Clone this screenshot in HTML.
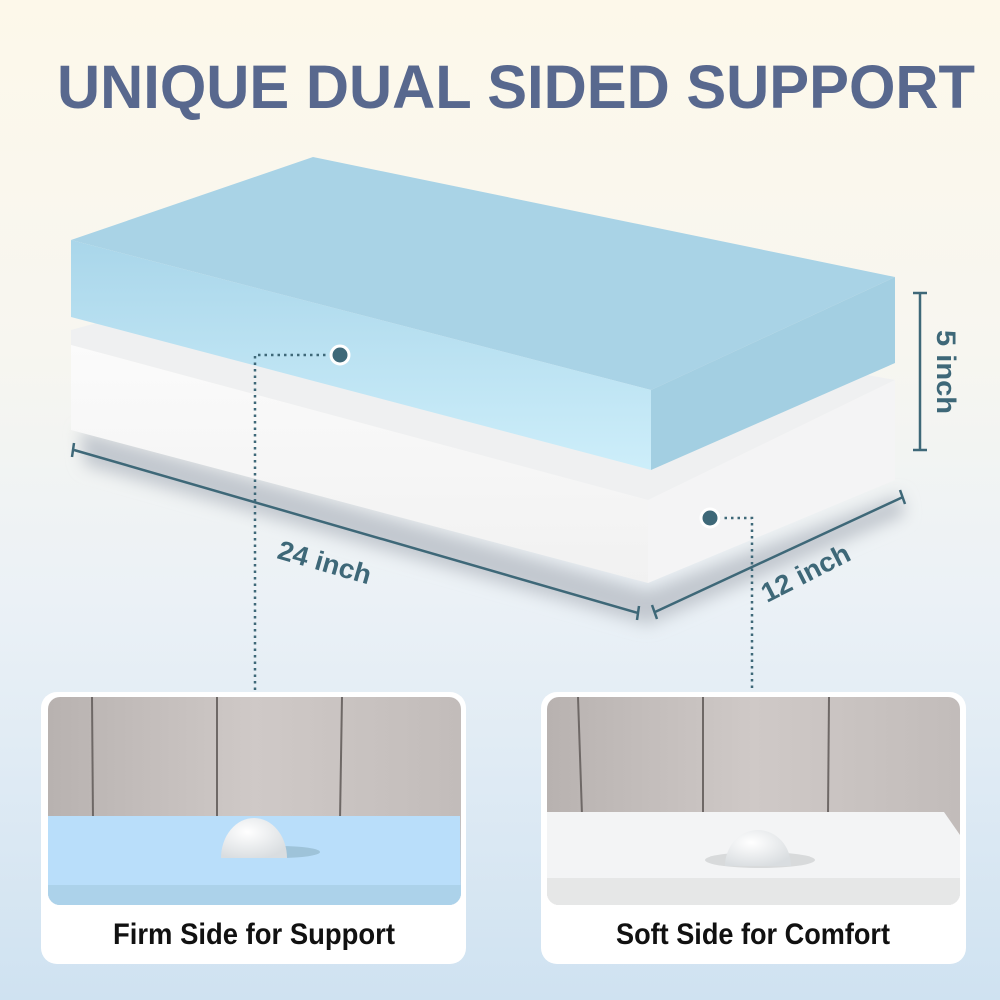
<!DOCTYPE html>
<html><head><meta charset="utf-8"><style>
html,body{margin:0;padding:0;width:1000px;height:1000px;overflow:hidden}
svg text{font-family:"Liberation Sans",sans-serif}
</style></head><body>
<svg width="1000" height="1000" viewBox="0 0 1000 1000" xmlns="http://www.w3.org/2000/svg">
<defs>
<linearGradient id="bg" x1="0" y1="0" x2="0" y2="1">
<stop offset="0" stop-color="#fdf8ea"/><stop offset="0.35" stop-color="#f7f6f0"/><stop offset="0.6" stop-color="#ebf1f6"/><stop offset="1" stop-color="#cfe2f1"/></linearGradient>
<linearGradient id="wall" x1="0" y1="0" x2="1" y2="0">
<stop offset="0" stop-color="#b8b2b0"/><stop offset="0.5" stop-color="#cfc9c7"/><stop offset="1" stop-color="#c2bcba"/></linearGradient>
<radialGradient id="ball" cx="0.4" cy="0.35" r="0.7"><stop offset="0" stop-color="#ffffff"/><stop offset="1" stop-color="#d9dde0"/></radialGradient>
<linearGradient id="front" x1="0" y1="0" x2="0" y2="1"><stop offset="0" stop-color="#a9d6ea"/><stop offset="1" stop-color="#cdeefa"/></linearGradient>
<linearGradient id="wfront" x1="0" y1="0" x2="0" y2="1"><stop offset="0" stop-color="#fbfbfb"/><stop offset="1" stop-color="#f1f1f1"/></linearGradient>
<filter id="blur"><feGaussianBlur stdDeviation="8"/></filter>
</defs>
<rect width="1000" height="1000" fill="url(#bg)"/>
<text x="516" y="108" text-anchor="middle" font-size="61" font-weight="900" fill="#58688e" textLength="918" lengthAdjust="spacingAndGlyphs">UNIQUE DUAL SIDED SUPPORT</text>
<!-- shadow -->
<polygon points="80,430 648,590 900,495 905,515 648,625 85,465" fill="#c2c8cf" filter="url(#blur)"/>
<!-- white slab -->
<polygon points="71,330 290,270 895,380 648,500 71,345" fill="#eff0f1"/>
<polygon points="71,345 648,500 648,583 71,430" fill="url(#wfront)"/>
<polygon points="648,500 895,380 895,480 648,583" fill="#f4f4f5"/>
<!-- blue slab -->
<polygon points="71,240 313,157 895,277 651,390" fill="#a9d3e6"/>
<polygon points="71,240 651,390 651,470 71,317" fill="url(#front)"/>
<polygon points="651,390 895,277 895,363 651,470" fill="#a3cfe2"/>
<!-- dimension lines -->
<g stroke="#3e6878" stroke-width="2.5" fill="none">
<line x1="74" y1="450" x2="638" y2="613"/><line x1="74" y1="443" x2="72" y2="457"/><line x1="639" y1="606" x2="637" y2="620"/>
<line x1="655" y1="612" x2="903" y2="497"/><line x1="652" y1="605" x2="657" y2="619"/><line x1="900" y1="490" x2="905" y2="504"/>
<line x1="920" y1="293" x2="920" y2="450"/><line x1="913" y1="293" x2="927" y2="293"/><line x1="913" y1="450" x2="927" y2="450"/>
</g>
<g fill="#3e6878" font-size="27" font-weight="bold" font-family="Liberation Sans">
<text transform="translate(276,558) rotate(16)" textLength="96" lengthAdjust="spacingAndGlyphs">24 inch</text>
<text transform="translate(767,603) rotate(-27)" textLength="96" lengthAdjust="spacingAndGlyphs">12 inch</text>
<text transform="translate(937,330) rotate(90)" textLength="84" lengthAdjust="spacingAndGlyphs">5 inch</text>
</g>
<!-- leaders -->
<g stroke="#3e6878" stroke-width="2.5" stroke-dasharray="2.5 4" fill="none">
<polyline points="332,355 255,355 255,690"/>
<polyline points="718,518 752,518 752,690"/>
</g>
<circle cx="340" cy="355" r="9" fill="#3e6878" stroke="#fff" stroke-width="3"/>
<circle cx="710" cy="518" r="9" fill="#3e6878" stroke="#fff" stroke-width="3"/>
<!-- left card -->
<rect x="41" y="692" width="425" height="272" rx="16" fill="#fff"/>
<clipPath id="c1"><rect x="48" y="697" width="413" height="208" rx="12"/></clipPath>
<g clip-path="url(#c1)">
<rect x="48" y="697" width="413" height="210" fill="url(#wall)"/>
<g stroke="#6e6866" stroke-width="2"><line x1="92" y1="697" x2="93" y2="820"/><line x1="217" y1="697" x2="217" y2="820"/><line x1="342" y1="697" x2="340" y2="820"/></g>
<polygon points="48,816 460,816 461,905 48,905" fill="#b9defa"/>
<rect x="48" y="885" width="413" height="20" fill="#acd2ea"/>
<ellipse cx="280" cy="852" rx="40" ry="6" fill="#9ec3d9"/>
<path d="M221,858 A33,40 0 0 1 287,858 Z" fill="url(#ball)"/>
</g>
<text x="254" y="944" text-anchor="middle" font-size="30" font-weight="bold" fill="#111" font-family="Liberation Sans" textLength="282" lengthAdjust="spacingAndGlyphs">Firm Side for Support</text>
<!-- right card -->
<rect x="541" y="692" width="425" height="272" rx="16" fill="#fff"/>
<clipPath id="c2"><rect x="547" y="697" width="413" height="208" rx="12"/></clipPath>
<g clip-path="url(#c2)">
<rect x="547" y="697" width="413" height="210" fill="url(#wall)"/>
<g stroke="#6e6866" stroke-width="2"><line x1="578" y1="697" x2="582" y2="815"/><line x1="703" y1="697" x2="703" y2="815"/><line x1="829" y1="697" x2="828" y2="815"/></g>
<polygon points="547,812 944,812 960,835 960,905 547,905" fill="#f3f4f5"/>
<rect x="547" y="878" width="413" height="27" fill="#e6e7e7"/>
<ellipse cx="760" cy="860" rx="55" ry="8" fill="#d8dadb"/>
<path d="M725,866 A33,36 0 0 1 791,866 Z" fill="url(#ball)"/>
</g>
<text x="753" y="944" text-anchor="middle" font-size="30" font-weight="bold" fill="#111" font-family="Liberation Sans" textLength="274" lengthAdjust="spacingAndGlyphs">Soft Side for Comfort</text>
</svg>
</body></html>
